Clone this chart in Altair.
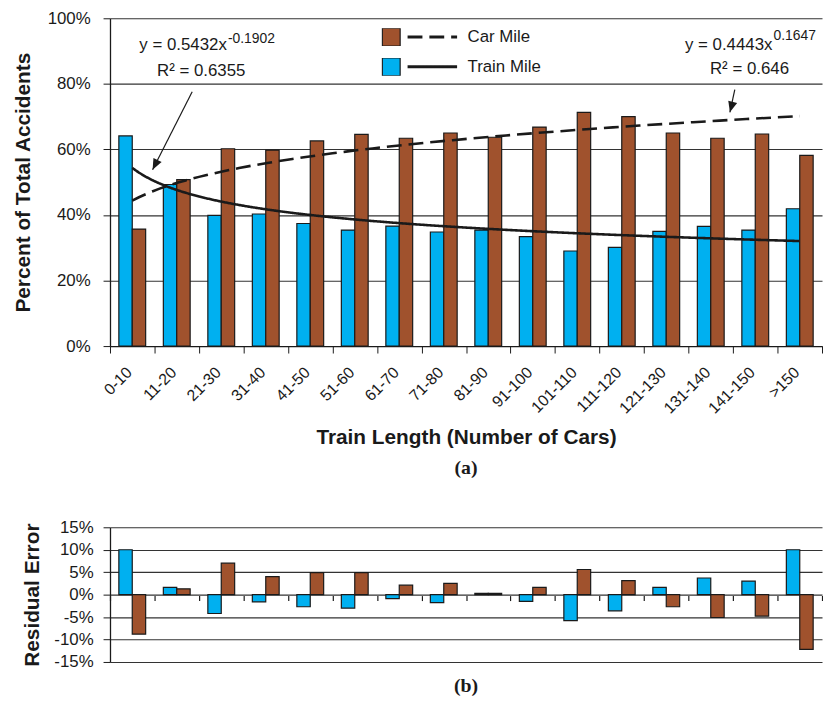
import altair as alt
import pandas as pd

# ---------------- data ----------------
categories = ["0-10", "11-20", "21-30", "31-40", "41-50", "51-60", "61-70", "71-80",
              "81-90", "91-100", "101-110", "111-120", "121-130", "131-140", "141-150", ">150"]
series_names = ["Car Mile", "Train Mile"]
train_mile = [64.1, 49.3, 39.9, 40.3, 37.4, 35.4, 36.6, 34.8, 35.4, 33.4, 29.0, 30.1, 35.0, 36.5, 35.4, 41.9]
car_mile = [35.7, 50.8, 60.2, 59.8, 62.6, 64.6, 63.4, 65.0, 63.7, 66.8, 71.3, 70.0, 65.0, 63.4, 64.7, 58.2]
train_resid = [10.0, 1.6, -4.2, -1.6, -2.7, -3.0, -0.9, -1.8, 0.3, -1.5, -5.8, -3.6, 1.6, 3.7, 3.0, 10.0]
car_resid = [-8.8, 1.3, 7.0, 4.0, 4.9, 4.9, 2.1, 2.5, 0.3, 1.6, 5.6, 3.1, -2.7, -5.1, -4.8, -12.2]
y_ticks_top = [0, 20, 40, 60, 80, 100]
y_ticks_bot = [-15, -10, -5, 0, 5, 10, 15]

top_rows, bot_rows = [], []
for i, c in enumerate(categories):
    top_rows.append({"cat": c, "k": i + 1, "series": "Train Mile", "value": train_mile[i]})
    top_rows.append({"cat": c, "k": i + 1, "series": "Car Mile", "value": car_mile[i]})
    bot_rows.append({"cat": c, "series": "Train Mile", "value": train_resid[i]})
    bot_rows.append({"cat": c, "series": "Car Mile", "value": car_resid[i]})
top_df = pd.DataFrame(top_rows)
bot_df = pd.DataFrame(bot_rows)

# ---------------- styling ----------------
W = 719
H_TOP = 331
H_BOT = 134
FONT = "Liberation Sans"
BLUE = "#00B0F0"
BROWN = "#A0522D"
INK = "#1a1a1a"
GRID = "#333333"

color_scale = alt.Scale(domain=series_names, range=[BROWN, BLUE])
xband = alt.Scale(paddingInner=0, paddingOuter=0)
off_scale = alt.Scale(paddingInner=0, paddingOuter=0.66)
xq_scale = alt.Scale(domain=[0.5, 16.5], nice=False, zero=False)
ytop_scale = alt.Scale(domain=[0, 100], nice=False)
ybot_scale = alt.Scale(domain=[-15, 15], nice=False)
off_enc = alt.XOffset("series:N", sort=["Train Mile", "Car Mile"], scale=off_scale)

# ---------------- top chart ----------------
bars = alt.Chart(top_df).mark_bar(stroke=INK, strokeWidth=1.2).encode(
    x=alt.X("cat:N", sort=categories, scale=xband,
            axis=alt.Axis(title="Train Length (Number of Cars)", labelAngle=-45, labelFontSize=16,
                          labelColor=INK, labelPadding=11, labelOffset=-9, tickBand="extent", tickSize=7,
                          tickColor=INK, domainColor=INK, domainWidth=1.3, titleFontSize=21,
                          titleFontWeight="bold", titleColor=INK, titlePadding=11)),
    xOffset=off_enc,
    y=alt.Y("value:Q", scale=ytop_scale,
            axis=alt.Axis(values=y_ticks_top, labelExpr="datum.value + '%'", title="Percent of Total Accidents",
                          labelFontSize=17, labelColor=INK, labelPadding=13, tickSize=7, tickColor=INK,
                          domainColor=INK, domainWidth=1.3, gridColor=GRID, gridWidth=1.1,
                          titleFontSize=21, titleFontWeight="bold", titleColor=INK, titlePadding=14)),
    color=alt.Color("series:N", scale=color_scale,
                    legend=alt.Legend(orient="none", legendX=274, legendY=10, title=None,
                                      symbolType="square", symbolSize=324, symbolStrokeColor=INK,
                                      symbolStrokeWidth=1.2, labelExpr="''", rowPadding=12,
                                      clipHeight=18, padding=0, labelOffset=0)),
)

lines = alt.Chart(top_df).transform_calculate(trend="datum.series").transform_regression(
    "k", "value", groupby=["trend"], method="pow"
).mark_line(color=INK, strokeWidth=2.6).encode(
    x=alt.X("k:Q", scale=xq_scale, axis=None),
    y=alt.Y("value:Q", scale=ytop_scale),
    strokeDash=alt.StrokeDash("trend:N", scale=alt.Scale(range=[[15, 7], [1, 0]]),
                              legend=alt.Legend(orient="none", legendX=299, legendY=10, title=None,
                                                symbolType="stroke", symbolSize=2500, symbolStrokeWidth=3,
                                                symbolStrokeColor=INK, labelFontSize=17, labelColor=INK,
                                                labelOffset=9, rowPadding=12, clipHeight=18, padding=0)),
)


def label(text, k, v, size=17, align="left"):
    return alt.Chart(pd.DataFrame({"t": [text]})).mark_text(
        fontSize=size, align=align, baseline="alphabetic", font=FONT, color=INK
    ).encode(
        x=alt.XDatum(k, type="quantitative", scale=xq_scale, axis=None),
        y=alt.YDatum(v, type="quantitative", scale=ytop_scale),
        text="t:N",
    )


def arrow(k1, v1, k2, v2, ang):
    d = pd.DataFrame({"a": [1]})
    shaft = alt.Chart(d).mark_rule(color=INK, strokeWidth=1.2).encode(
        x=alt.XDatum(k1, type="quantitative", scale=xq_scale, axis=None),
        y=alt.YDatum(v1, type="quantitative", scale=ytop_scale),
        x2=alt.X2Datum(k2), y2=alt.Y2Datum(v2),
    )
    head = alt.Chart(d).mark_point(shape="M0,0L-0.42,-1L0.42,-1Z", size=484, filled=True,
                                   opacity=1, color=INK, angle=ang).encode(
        x=alt.XDatum(k2, type="quantitative", scale=xq_scale, axis=None),
        y=alt.YDatum(v2, type="quantitative", scale=ytop_scale),
    )
    return [shaft, head]


annots = [
    label("y = 0.5432x", 3.126, 90.2, align="right"),
    label("-0.1902", 3.15, 92.6, size=14),
    label("R\u00b2 = 0.6355", 2.55, 82.5, align="center"),
    label("y = 0.4443x", 15.386, 90.3, align="right"),
    label("0.1647", 15.41, 93.4, size=14),
    label("R\u00b2 = 0.646", 14.87, 83.1, align="center"),
]
annots += arrow(2.347, 77.6, 1.457, 53.8, 27)
annots += arrow(14.54, 78.2, 14.43, 71.3, 15)

top = alt.layer(bars, lines, *annots).resolve_scale(x="independent").properties(
    width=W, height=H_TOP,
    title=alt.TitleParams("(a)", orient="bottom", font="Liberation Serif", fontSize=20,
                          fontWeight="bold", color=INK, frame="group", offset=10),
)

# ---------------- bottom chart ----------------
bottom = alt.Chart(bot_df).mark_bar(stroke=INK, strokeWidth=1.2).encode(
    x=alt.X("cat:N", sort=categories, scale=xband,
            axis=alt.Axis(title=None, labels=False, domain=False, tickBand="extent", tickSize=5,
                          tickColor=INK, tickWidth=1.2, offset=-H_BOT / 2)),
    xOffset=off_enc,
    y=alt.Y("value:Q", scale=ybot_scale,
            axis=alt.Axis(values=y_ticks_bot, labelExpr="datum.value + '%'", title="Residual Error",
                          labelFontSize=17, labelColor=INK, labelPadding=10, tickSize=7, tickColor=INK,
                          domainColor=INK, domainWidth=1.3, gridColor=GRID, gridWidth=1.1,
                          titleFontSize=21, titleFontWeight="bold", titleColor=INK, titlePadding=12)),
    color=alt.Color("series:N", scale=color_scale, legend=None),
).properties(
    width=W, height=H_BOT + 2,
    title=alt.TitleParams("(b)", orient="bottom", font="Liberation Serif", fontSize=20,
                          fontWeight="bold", color=INK, frame="group", offset=6),
)

chart = alt.vconcat(top, bottom, spacing=41).resolve_scale(color="independent").resolve_legend(
    color="independent"
).properties(
    padding={"left": 4, "top": -2, "right": 0, "bottom": 0}
).configure(font=FONT).configure_view(stroke=None)

chart.save("out.html", embed_options={"renderer": "svg", "actions": False})
